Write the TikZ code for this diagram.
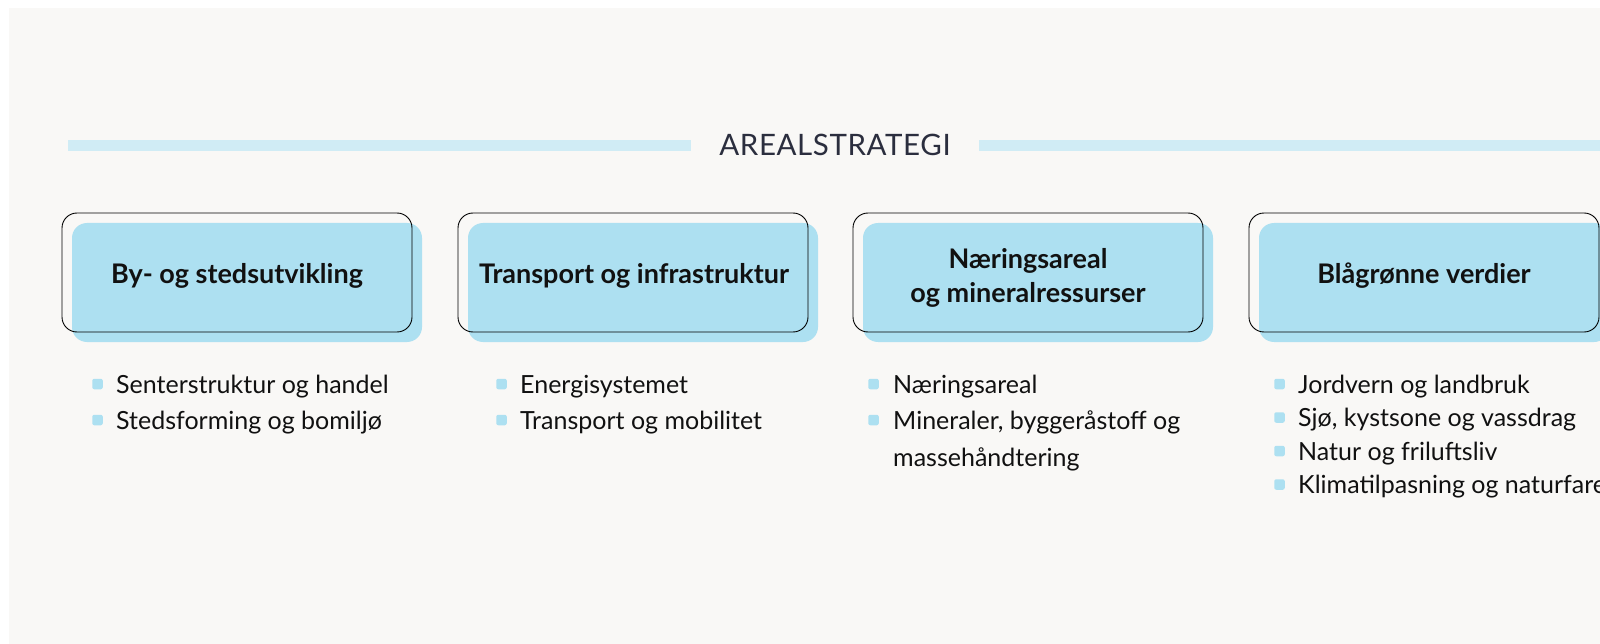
\documentclass[tikz,border=0pt]{standalone}
\usepackage{fontspec}
\setmainfont{Lato}
\definecolor{bgc}{HTML}{F9F8F6}
\definecolor{bandc}{HTML}{D0ECF5}
\definecolor{boxc}{HTML}{ADE0F1}
\definecolor{headc}{HTML}{2B2E3E}
\definecolor{txtc}{HTML}{111111}
\tikzset{
  blueback/.style={fill=boxc, rounded corners=15pt, minimum width=350pt, minimum height=119pt, inner sep=0pt},
  outline/.style={draw=black, line width=0.9pt, rounded corners=15pt, minimum width=350pt, minimum height=119pt, inner sep=0pt},
  headtext/.style={align=center, inner sep=0pt, font=\fontsize{27}{34}\selectfont\bfseries, text=txtc},
  bullet/.style={fill=boxc, rounded corners=2pt, minimum size=10.5pt, inner sep=0pt},
  item/.style={anchor=base west, inner sep=0pt, font=\fontsize{25}{30}\selectfont, text=txtc},
  band/.style={fill=bandc}
}
\begin{document}
\begin{tikzpicture}[x=1pt,y=-1pt]
\useasboundingbox (0,0) rectangle (1600,644);
\clip (0,0) rectangle (1600,644);
\fill[white] (0,0) rectangle (1600,644);
\fill[bgc] (9,8) rectangle (1600,644);
% header
\fill[band] (68,140) rectangle (691,151);
\fill[band] (979,140) rectangle (1600,151);
\node[anchor=base, inner sep=0pt, text=headc, font=\fontsize{29.5}{30}\selectfont\addfontfeatures{LetterSpace=2}] (title) at (835,156) {AREALSTRATEGI};
% boxes
\node[blueback] (bg1) at (247,282.5) {};
\node[outline] (b1) at (237,272.5) {};
\node[headtext] (h1) at (237,275.5) {By- og stedsutvikling};
\node[blueback] (bg2) at (643,282.5) {};
\node[outline] (b2) at (633,272.5) {};
\node[headtext] (h2) at (634,275.5) {Transport og infrastruktur};
\node[blueback] (bg3) at (1038,282.5) {};
\node[outline] (b3) at (1028,272.5) {};
\node[headtext] (h3) at (1028,278) {Næringsareal\\og mineralressurser};
\node[blueback] (bg4) at (1434,282.5) {};
\node[outline] (b4) at (1424,272.5) {};
\node[headtext] (h4) at (1424,275.5) {Blågrønne verdier};
% lists box 1
\node[bullet] (u11) at (97.5,384) {};
\node[item] (t11) at (116,393) {Senterstruktur og handel};
\node[bullet] (u12) at (97.5,420) {};
\node[item] (t12) at (116,429) {Stedsforming og bomiljø};
% box 2
\node[bullet] (u21) at (501.5,384) {};
\node[item] (t21) at (520,393) {Energisystemet};
\node[bullet] (u22) at (501.5,420) {};
\node[item] (t22) at (520,429) {Transport og mobilitet};
% box 3
\node[bullet] (u31) at (873.5,384) {};
\node[item] (t31) at (893,393) {Næringsareal};
\node[bullet] (u32) at (873.5,420) {};
\node[item] (t32) at (893,429) {Mineraler, byggeråstoff og};
\node[item] (t33) at (893,466) {massehåndtering};
% box 4
\node[bullet] (u41) at (1279.5,384) {};
\node[item] (t41) at (1298,393) {Jordvern og landbruk};
\node[bullet] (u42) at (1279.5,417.5) {};
\node[item] (t42) at (1298,426.5) {Sjø, kystsone og vassdrag};
\node[bullet] (u43) at (1279.5,451) {};
\node[item] (t43) at (1298,460) {Natur og friluftsliv};
\node[bullet] (u44) at (1279.5,484.5) {};
\node[item] (t44) at (1298,493.5) {Klimatilpasning og naturfare};
\end{tikzpicture}
\end{document}
